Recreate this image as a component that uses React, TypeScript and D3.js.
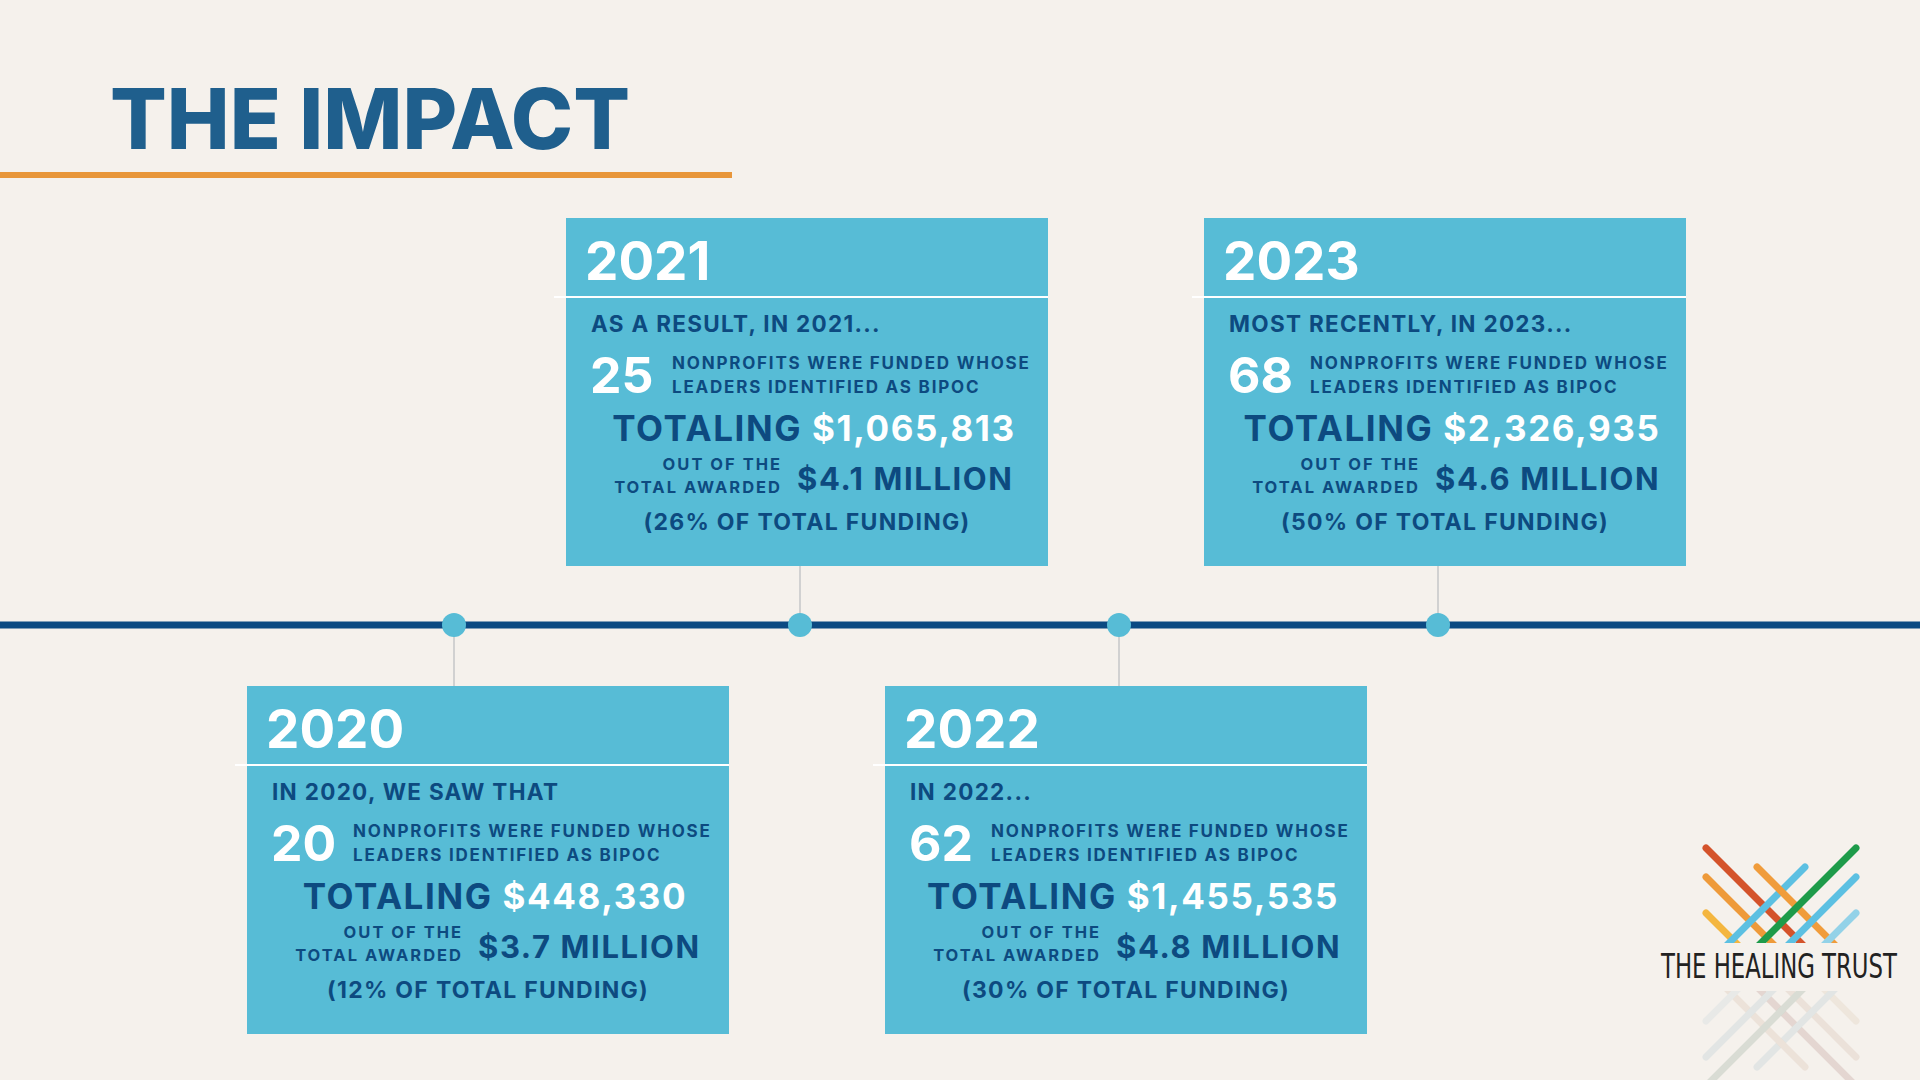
import * as d3 from "d3";
import React, { useEffect, useRef } from "react";

// timeline data, one entry per card
const years = [2020, 2021, 2022, 2023];
const introLines = [
  "IN 2020, WE SAW THAT",
  "AS A RESULT, IN 2021...",
  "IN 2022...",
  "MOST RECENTLY, IN 2023...",
];
const bipocCounts = [20, 25, 62, 68];
const bipocTotals = [448330, 1065813, 1455535, 2326935];
const totalAwardedMillions = [3.7, 4.1, 4.8, 4.6];
const shareOfFunding = [12, 26, 30, 50];
const descLines = ["NONPROFITS WERE FUNDED WHOSE", "LEADERS IDENTIFIED AS BIPOC"];

const BG = "#f5f1ec";
const CARD = "#57bcd6";
const NAVY = "#0d4a80";
const FONT = "Inter, 'Open Sans', sans-serif";

// logo stripes: top point + direction (1 = down-right, -1 = down-left)
const logoStripes = [
  { x: 1706, y: 913, dir: 1, color: "#f4b63f" },
  { x: 1706, y: 877, dir: 1, color: "#ee9a3a" },
  { x: 1706, y: 848, dir: 1, color: "#d4532b" },
  { x: 1805, y: 867, dir: -1, color: "#5cc0e2" },
  { x: 1757, y: 867, dir: 1, color: "#f09c3b" },
  { x: 1856, y: 913, dir: -1, color: "#93d2e8" },
  { x: 1856, y: 877, dir: -1, color: "#5cc0e2" },
  { x: 1856, y: 848, dir: -1, color: "#1e9b4a" },
];

const App = () => {
  const svgRef = useRef();

  useEffect(() => {
    document.body.style.margin = "0";
    const width = 1920;
    const height = 1080;

    const svg = d3
      .select(svgRef.current)
      .attr("width", width)
      .attr("height", height)
      .style("display", "block");

    svg.append("rect").attr("width", width).attr("height", height).attr("fill", BG);

    // title
    svg
      .append("text")
      .attr("x", 110)
      .attr("y", 149)
      .attr("font-family", FONT)
      .attr("font-weight", 800)
      .attr("font-size", 84)
      .attr("fill", "#1f5f8d")
      .text("THE IMPACT");

    svg
      .append("rect")
      .attr("x", 0)
      .attr("y", 172)
      .attr("width", 732)
      .attr("height", 6)
      .attr("fill", "#e8963a");

    const cardW = 482;
    const cardH = 348;
    const x = d3.scaleLinear().domain([2020, 2023]).range([247, 1204]);
    const lineY = 625;
    const topY = 218;
    const bottomY = 686;
    const cardTop = (i) => (i % 2 === 0 ? bottomY : topY);
    const dotX = (d, i) => x(d) + 234 - (i === 0 ? 27 : 0);

    // connectors
    svg
      .append("g")
      .selectAll("line")
      .data(years)
      .join("line")
      .attr("x1", dotX)
      .attr("x2", dotX)
      .attr("y1", lineY)
      .attr("y2", (d, i) => (i % 2 === 0 ? bottomY : topY + cardH))
      .attr("stroke", "#b9bdc0")
      .attr("stroke-width", 1.2);

    // timeline bar
    svg
      .append("rect")
      .attr("x", 0)
      .attr("y", lineY - 3.5)
      .attr("width", width)
      .attr("height", 7)
      .attr("fill", "#0b4a82");

    svg
      .append("g")
      .selectAll("circle")
      .data(years)
      .join("circle")
      .attr("cx", dotX)
      .attr("cy", lineY)
      .attr("r", 12)
      .attr("fill", CARD);

    const fmtTotal = d3.format("$,");
    const fmtMil = d3.format(".1f");

    const cards = svg
      .append("g")
      .selectAll("g")
      .data(years)
      .join("g")
      .attr("transform", (d, i) => `translate(${x(d)},${cardTop(i)})`)
      .attr("font-family", FONT)
      .attr("font-weight", 700);

    cards.append("rect").attr("width", cardW).attr("height", cardH).attr("fill", CARD);

    cards
      .append("rect")
      .attr("x", -12)
      .attr("y", 78)
      .attr("width", cardW + 12)
      .attr("height", 2)
      .attr("fill", "#ffffff");

    cards
      .append("text")
      .attr("x", 19)
      .attr("y", 62)
      .attr("font-size", 53)
      .attr("fill", "#fff")
      .text((d) => d);

    cards
      .append("text")
      .attr("x", 25)
      .attr("y", 114)
      .attr("font-size", 22.5)
      .attr("letter-spacing", 1.3)
      .attr("fill", NAVY)
      .text((d, i) => introLines[i]);

    cards
      .append("text")
      .attr("x", 24)
      .attr("y", 175)
      .attr("font-size", 50)
      .attr("fill", "#fff")
      .text((d, i) => bipocCounts[i]);

    descLines.forEach((line, k) => {
      cards
        .append("text")
        .attr("x", 106)
        .attr("y", 151 + k * 24)
        .attr("font-size", 17)
        .attr("letter-spacing", 1.8)
        .attr("fill", NAVY)
        .text(line);
    });

    const totaling = cards
      .append("text")
      .attr("x", 248)
      .attr("y", 223)
      .attr("text-anchor", "middle")
      .attr("font-size", 35)
      .attr("letter-spacing", 1.6);
    totaling.append("tspan").attr("fill", NAVY).text("TOTALING ");
    totaling
      .append("tspan")
      .attr("fill", "#fff")
      .text((d, i) => fmtTotal(bipocTotals[i]));

    ["OUT OF THE", "TOTAL AWARDED"].forEach((line, k) => {
      cards
        .append("text")
        .attr("x", 216)
        .attr("y", 252 + k * 23)
        .attr("text-anchor", "end")
        .attr("font-size", 16.5)
        .attr("letter-spacing", 2)
        .attr("fill", NAVY)
        .text(line);
    });

    cards
      .append("text")
      .attr("x", 231)
      .attr("y", 272)
      .attr("font-size", 31)
      .attr("letter-spacing", 1.6)
      .attr("fill", NAVY)
      .text((d, i) => `$${fmtMil(totalAwardedMillions[i])} MILLION`);

    cards
      .append("text")
      .attr("x", cardW / 2)
      .attr("y", 312)
      .attr("text-anchor", "middle")
      .attr("font-size", 23)
      .attr("letter-spacing", 1.3)
      .attr("fill", NAVY)
      .text((d, i) => `(${shareOfFunding[i]}% OF TOTAL FUNDING)`);

    // logo
    const defs = svg.append("defs");
    defs
      .append("clipPath")
      .attr("id", "logo-top")
      .append("rect")
      .attr("x", 1680)
      .attr("y", 820)
      .attr("width", 200)
      .attr("height", 123);
    defs
      .append("clipPath")
      .attr("id", "logo-bottom")
      .append("rect")
      .attr("x", 1680)
      .attr("y", 991)
      .attr("width", 200)
      .attr("height", 100);
    const fade = defs.append("filter").attr("id", "fade");
    fade.append("feColorMatrix").attr("type", "saturate").attr("values", 0.35);

    const stripe = (s) => `M${s.x},${s.y}L${s.x + s.dir * 140},${s.y + 140}`;

    svg
      .append("g")
      .attr("clip-path", "url(#logo-top)")
      .selectAll("path")
      .data(logoStripes)
      .join("path")
      .attr("d", stripe)
      .attr("stroke", (s) => s.color)
      .attr("stroke-width", 7)
      .attr("stroke-linecap", "round");

    svg
      .append("g")
      .attr("clip-path", "url(#logo-bottom)")
      .append("g")
      .attr("opacity", 0.2)
      .attr("filter", "url(#fade)")
      .attr("transform", "rotate(180 1781 967)")
      .selectAll("path")
      .data(logoStripes)
      .join("path")
      .attr("d", stripe)
      .attr("stroke", (s) => s.color)
      .attr("stroke-width", 7)
      .attr("stroke-linecap", "round");

    // squeeze the wordmark to its width in the reference
    const logoText = svg.append("g");
    const wordmark = logoText
      .append("text")
      .attr("font-family", "'Liberation Sans Narrow', 'DejaVu Sans Condensed', sans-serif")
      .attr("font-size", 33)
      .attr("fill", "#222")
      .text("THE HEALING TRUST");
    const natural = wordmark.node().getComputedTextLength() || 300;
    logoText.attr("transform", `translate(1661,978) scale(${236 / natural},1)`);

    return () => {
      d3.select(svgRef.current).selectAll("*").remove();
    };
  }, []);

  return <svg ref={svgRef}></svg>;
};

export default App;
